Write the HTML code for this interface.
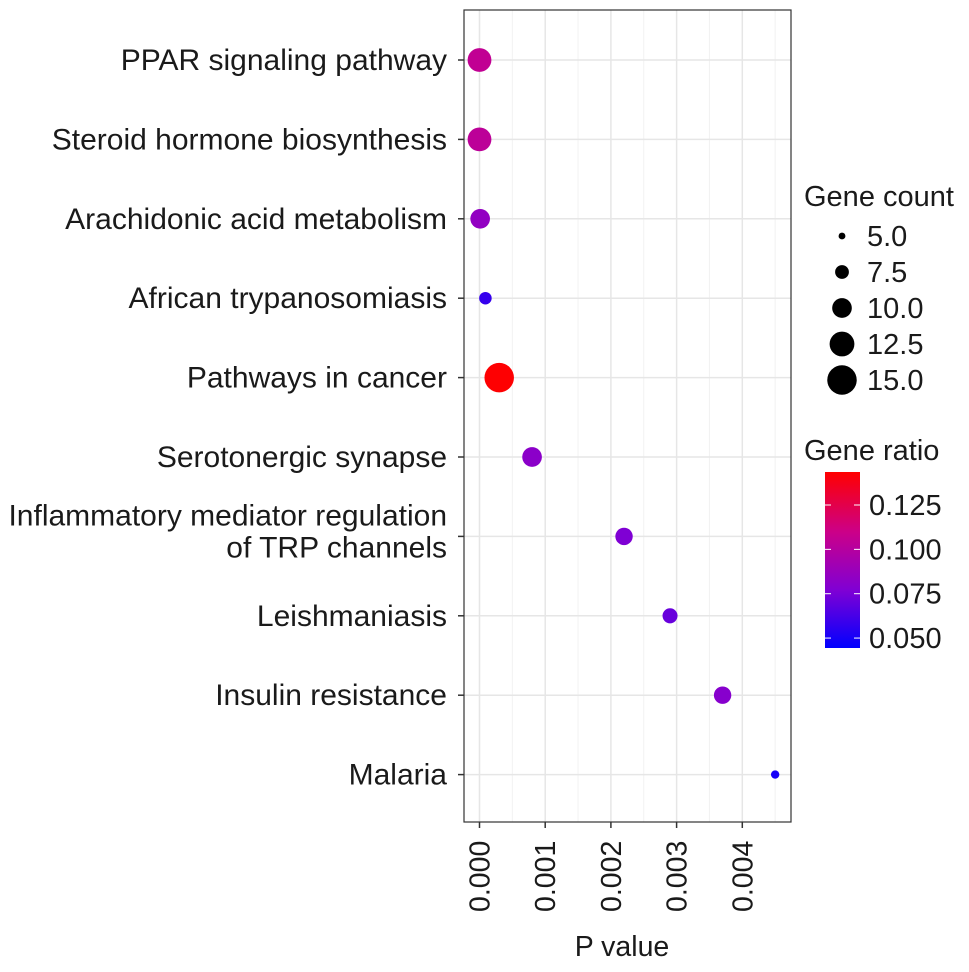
<!DOCTYPE html>
<html><head><meta charset="utf-8"><style>
html,body{margin:0;padding:0;background:#fff;}
svg{display:block;font-family:"Liberation Sans",Arial,sans-serif;}
</style></head><body>
<svg id="chart" width="969" height="972" viewBox="0 0 969 972">
<defs>
<linearGradient id="cbar" x1="0" y1="1" x2="0" y2="0">
<stop offset="0" stop-color="#0000ff"/>
<stop offset="0.33" stop-color="#8000d4"/>
<stop offset="0.66" stop-color="#cc0088"/>
<stop offset="1" stop-color="#ff0000"/>
</linearGradient>
</defs>
<g id="grid"></g>
<g id="ylabels"></g>
<g id="xlabels"></g>
<g id="points"></g>
<rect x="464" y="10" width="327" height="812" fill="none" stroke="#333" stroke-width="1.2"/>
<text x="622" y="956" font-size="28.5" text-anchor="middle" fill="#1a1a1a">P value</text>
<g id="legend-size"><text x="804" y="206" font-size="29" fill="#1a1a1a">Gene count</text></g>
<g id="legend-color">
<text x="804" y="460" font-size="29" fill="#1a1a1a">Gene ratio</text>
<rect x="825" y="472" width="35" height="176" fill="url(#cbar)"/>
</g>
</svg>
<script>
const categories = ["PPAR signaling pathway","Steroid hormone biosynthesis","Arachidonic acid metabolism","African trypanosomiasis","Pathways in cancer","Serotonergic synapse","Inflammatory mediator regulation|of TRP channels","Leishmaniasis","Insulin resistance","Malaria"];
const pValues = [0.00000, 0.00000, 0.00001, 0.00009, 0.00030, 0.00080, 0.00220, 0.00290, 0.00370, 0.00450];
const geneCounts = [12, 12, 10, 7, 15, 10, 9, 8, 9, 5.5];
const geneRatios = [0.105, 0.103, 0.085, 0.058, 0.143, 0.082, 0.077, 0.071, 0.080, 0.050];
const xTicks = [0, 0.001, 0.002, 0.003, 0.004];
const xTickLabels = ["0.000","0.001","0.002","0.003","0.004"];
const sizeBreaks = [5.0, 7.5, 10.0, 12.5, 15.0];
const sizeBreakLabels = ["5.0","7.5","10.0","12.5","15.0"];
const colorBreaks = [0.125, 0.100, 0.075, 0.050];
const colorBreakLabels = ["0.125","0.100","0.075","0.050"];

const NS="http://www.w3.org/2000/svg";
const xScale = v => 479.5 + v*65700;
const yScale = i => 60 + i*79.4;
const rScale = c => Math.max(1.5, (-24 + 13.8*Math.sqrt(c))/2);
const cMin=0.0444, cMax=0.1436;
const cScale = v => 648 - (v-cMin)/(cMax-cMin)*176;
const stops=[[0,[0,0,255]],[0.33,[128,0,212]],[0.66,[204,0,136]],[1,[255,0,0]]];
function colorOf(v){
  let t=Math.min(1,Math.max(0,(v-cMin)/(cMax-cMin)));
  for(let k=0;k<stops.length-1;k++){
    const [a,ca]=stops[k],[b,cb]=stops[k+1];
    if(t<=b){const f=(t-a)/(b-a);return `rgb(${ca.map((x,j)=>Math.round(x+(cb[j]-x)*f)).join(',')})`;}
  }
  return 'rgb(255,0,0)';
}
function mk(tag,attrs,parent){const e=document.createElementNS(NS,tag);for(const k in attrs)e.setAttribute(k,attrs[k]);parent.appendChild(e);return e;}

const grid=document.getElementById('grid');
for(let i=0;i<xTicks.length;i++){
  const xm=xScale(xTicks[i]+0.0005);
  if(xm<791){const l=mk('line',{x1:xm,x2:xm,y1:10,y2:822,stroke:'#f2f2f2','stroke-width':1},grid);
  
  }
}
for(let i=0;i<xTicks.length;i++){
  const x=xScale(xTicks[i]);
  const l=mk('line',{x1:x,x2:x,y1:10,y2:822,stroke:'#e6e6e6','stroke-width':1.5},grid);
  
  
  const t=mk('line',{x1:x,x2:x,y1:822,y2:828,stroke:'#333','stroke-width':1.5},grid);
  
  
}
const ylab=document.getElementById('ylabels');
categories.forEach((c,i)=>{
  const y=yScale(i);
  const l=mk('line',{x1:464,x2:791,y1:y,y2:y,stroke:'#e6e6e6','stroke-width':1.5},grid);
  
  
  const t=mk('line',{x1:458,x2:464,y1:y,y2:y,stroke:'#333','stroke-width':1.5},grid);
  
  
  const parts=c.split('|');
  const tx=mk('text',{x:447,'text-anchor':'end','font-size':30,fill:'#1a1a1a'},ylab);
  
  
  if(parts.length===1){tx.setAttribute('y',y+10);tx.textContent=c;}
  else{
    tx.setAttribute('y',y-11);tx.textContent=parts[0];
    const t2=mk('text',{x:447,y:y+21,'text-anchor':'end','font-size':30,fill:'#1a1a1a'},ylab);
    
    
    t2.textContent=parts[1];
  }
});
const xl=document.getElementById('xlabels');
xTickLabels.forEach((s,i)=>{
  const x=xScale(xTicks[i])+10;
  const t=mk('text',{x:0,y:0,transform:`translate(${x},912) rotate(-90)`,'font-size':28.5,fill:'#1a1a1a'},xl);
  
  
  t.textContent=s;
});
const pts=document.getElementById('points');
categories.forEach((c,i)=>{
  const p=mk('circle',{cx:xScale(pValues[i]),cy:yScale(i),r:rScale(geneCounts[i]),fill:colorOf(geneRatios[i])},pts);
  
  
});
const ls=document.getElementById('legend-size');
sizeBreaks.forEach((s,i)=>{
  const y=236+i*36;
  const cc=mk('circle',{cx:842,cy:y,r:rScale(s),fill:'#000'},ls);
  
  
  const t=mk('text',{x:867,y:y+10,'font-size':29,fill:'#1a1a1a'},ls);
  
  
  t.textContent=sizeBreakLabels[i];
});
const lc=document.getElementById('legend-color');
colorBreaks.forEach((v,i)=>{
  const y=cScale(v);
  const a=mk('line',{x1:825,x2:831,y1:y,y2:y,stroke:'#fff','stroke-width':1},lc);
  
  
  const b=mk('line',{x1:854,x2:860,y1:y,y2:y,stroke:'#fff','stroke-width':1},lc);
  
  
  const t=mk('text',{x:869,y:y+10,'font-size':29,fill:'#1a1a1a'},lc);
  
  
  t.textContent=colorBreakLabels[i];
});
</script>
</body></html>
